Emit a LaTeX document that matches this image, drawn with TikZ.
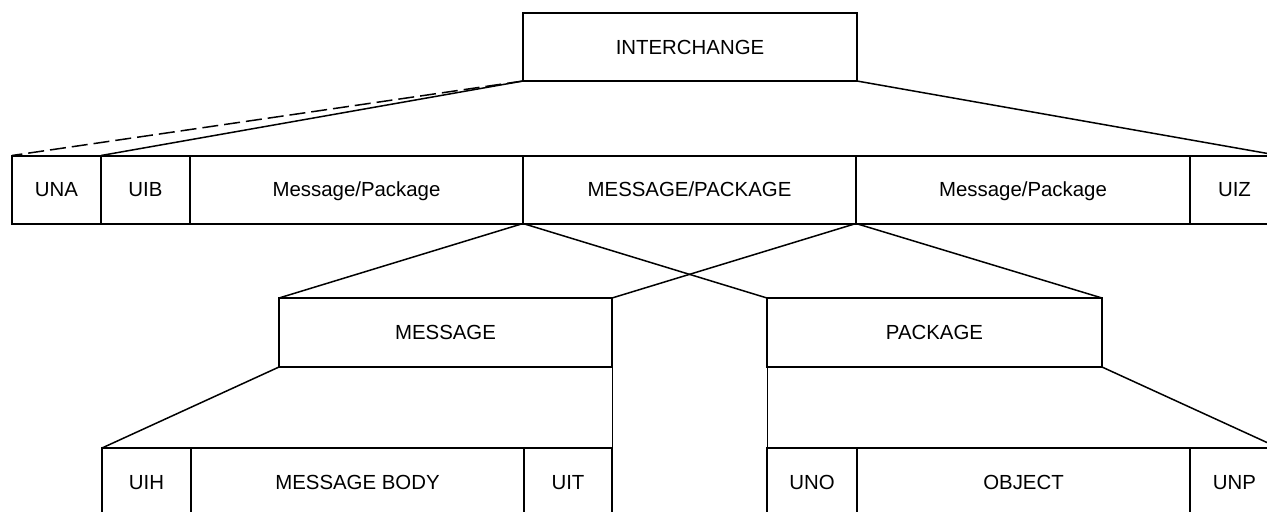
\documentclass[tikz,border=0pt]{standalone}
\usepackage{fontspec}
\setmainfont{Liberation Sans}
\usepackage{tikz}

\begin{document}
\begin{tikzpicture}[x=0.5pt, y=-0.5pt,
    seg/.style={draw, line width=1pt, inner sep=0pt, outer sep=0pt, minimum height=34pt, text height=7.3pt, text depth=0pt, font=\fontsize{10.2}{12}\selectfont},
    link/.style={line width=0.75pt},
    drop/.style={line width=0.5pt}]
        \useasboundingbox (0,0) rectangle (1267,511);
        \clip (0,0) rectangle (1267,511);
        \node[seg, minimum width=167pt] (ic) at (690,47) {INTERCHANGE};
        \foreach \n/\x/\w/\t in {una/56.5/89/UNA, uib/145.5/89/UIB, mp1/356.5/333/{Message/Package}, mp2/689.5/333/{MESSAGE/PACKAGE}, mp3/1023/334/{Message/Package}, uiz/1234.5/89/UIZ}{
            \node[seg, minimum width=\w*0.5pt] (\n) at (\x,189.5) {\t};
        }
        \node[seg, minimum width=166.5pt, minimum height=34.5pt] (msg) at (445.5,332.5) {MESSAGE};
        \node[seg, minimum width=167.5pt, minimum height=34.5pt] (pkg) at (934.5,332.5) {PACKAGE};
        \foreach \n/\x/\w/\t in {uih/146.5/89/UIH, body/357.5/333/MESSAGE BODY, uit/568/88/UIT, uno/812/90/UNO, obj/1023.5/333/OBJECT, unp/1234.5/89/UNP}{
            \node[seg, minimum width=\w*0.5pt] (\n) at (\x,482) {\t};
        }
        \path[draw, link, dash pattern=on 8pt off 3pt] (ic.south west) -- (una.north west);
        \path[draw, link] (ic.south west) -- (uib.north west);
        \path[draw, link] (ic.south east) -- (uiz.north east);
        \path[draw, link] (mp2.south west) -- (msg.north west);
        \path[draw, link] (mp2.south west) -- (pkg.north west);
        \path[draw, link] (mp2.south east) -- (msg.north east);
        \path[draw, link] (mp2.south east) -- (pkg.north east);
        \path[draw, link] (msg.south west) -- (uih.north west);
        \path[draw, drop] (msg.south east) -- (uit.north east);
        \path[draw, drop] (pkg.south west) -- (uno.north west);
        \path[draw, link] (pkg.south east) -- (unp.north east);
    \end{tikzpicture}
\end{document}
